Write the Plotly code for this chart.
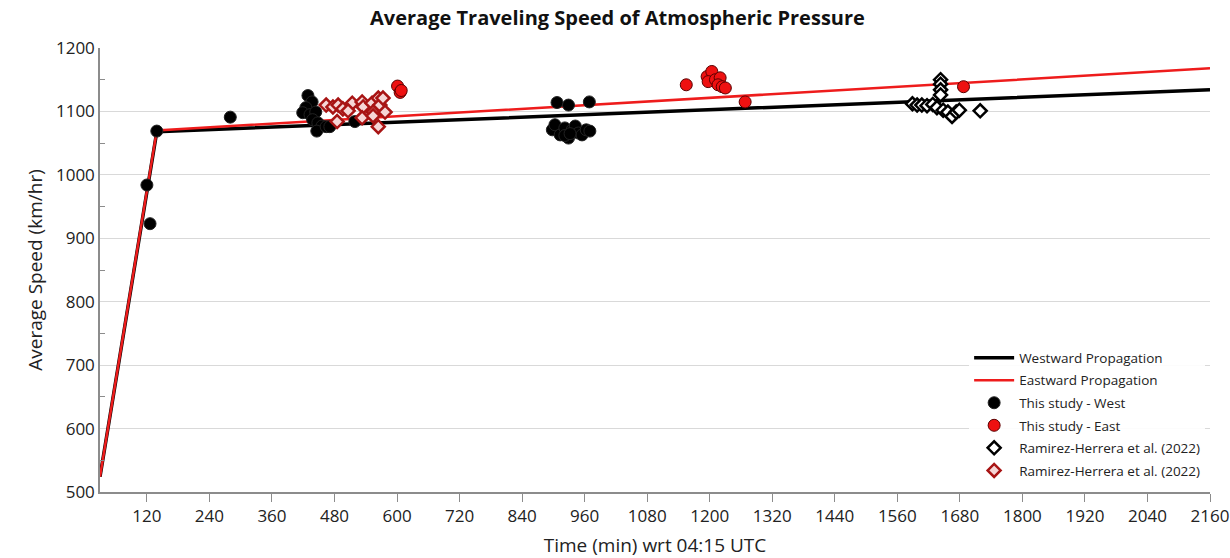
import plotly.graph_objects as go

# Fitted propagation lines (time in minutes, speed in km/hr)
west_t = [30, 139, 2160]
west_v = [524, 1068, 1134]
east_t = [30, 139, 2160]
east_v = [524, 1070, 1168]

# This study - West
west_obs_t = [120, 126, 139, 280,
              429, 437, 425, 419, 433, 444, 438, 448, 456, 446, 464, 471, 519,
              907, 929, 969,
              898, 903, 913, 922, 929, 936, 942, 948, 955, 963, 970, 922, 932]
west_obs_v = [984, 923, 1069, 1091,
              1125, 1115, 1106, 1098, 1095, 1099, 1087, 1082, 1077, 1069, 1076, 1076, 1084,
              1114, 1110, 1115,
              1071, 1079, 1063, 1074, 1058, 1071, 1077, 1066, 1063, 1071, 1069, 1062, 1065]

# This study - East
east_obs_t = [601, 606, 608, 1155, 1195, 1204, 1197, 1211, 1220, 1216, 1224, 1230, 1268, 1687]
east_obs_v = [1140, 1130, 1133, 1142, 1155, 1163, 1147, 1150, 1153, 1142, 1139, 1137, 1115, 1139]

# Ramirez-Herrera et al. (2022), west stations
rh_west_t = [1643, 1643, 1643, 1643, 1589, 1598, 1607, 1617, 1628, 1636, 1648, 1657, 1665, 1673, 1679, 1719]
rh_west_v = [1150, 1143, 1134, 1126, 1112, 1110, 1110, 1109, 1111, 1106, 1102, 1099, 1092, 1099, 1102, 1101]

# Ramirez-Herrera et al. (2022), east stations
rh_east_t = [464, 477, 487, 496, 514, 506, 533, 535, 552, 554, 564, 567, 573, 577, 485, 533, 564, 554]
rh_east_v = [1110, 1107, 1110, 1104, 1113, 1101, 1115, 1107, 1113, 1099, 1121, 1110, 1121, 1099, 1084, 1090, 1076, 1093]

x_ticks = list(range(120, 2161, 120))
y_ticks = list(range(500, 1201, 100))

fig = go.Figure()

fig.add_trace(go.Scatter(x=west_t, y=west_v, mode="lines", name="Westward Propagation",
                         legendgroup="a", line=dict(color="black", width=3.5)))
fig.add_trace(go.Scatter(x=east_t, y=east_v, mode="lines", name="Eastward Propagation",
                         legendgroup="b", line=dict(color="#ee1c1c", width=2.5)))
fig.add_trace(go.Scatter(x=west_obs_t, y=west_obs_v, mode="markers", name="This study - West",
                         legendgroup="c",
                         marker=dict(symbol="circle", size=12, color="black",
                                     line=dict(color="#222222", width=1))))
fig.add_trace(go.Scatter(x=east_obs_t, y=east_obs_v, mode="markers", name="This study - East",
                         legendgroup="d",
                         marker=dict(symbol="circle", size=12, color="#ee1111",
                                     line=dict(color="#5a0000", width=1))))
fig.add_trace(go.Scatter(x=rh_west_t, y=rh_west_v, mode="markers", name="Ramirez-Herrera et al. (2022)",
                         legendgroup="e",
                         marker=dict(symbol="diamond", size=10, color="white",
                                     line=dict(color="black", width=2.5))))
fig.add_trace(go.Scatter(x=rh_east_t, y=rh_east_v, mode="markers", name="Ramirez-Herrera et al. (2022)",
                         legendgroup="f",
                         marker=dict(symbol="diamond", size=10, color="#f6d6d6",
                                     line=dict(color="#a81414", width=2.5))))

font = "Open Sans, Noto Sans, sans-serif"

fig.update_layout(
    width=1230, height=558,
    margin=dict(l=100, r=20, t=48, b=66, autoexpand=False),
    paper_bgcolor="white", plot_bgcolor="white",
    font=dict(family=font, color="#222222"),
    title=dict(text="<b>Average Traveling Speed of Atmospheric Pressure</b>",
               x=0.502, xanchor="center", y=0.967, yanchor="middle",
               font=dict(size=20, color="#111111")),
    showlegend=True,
    legend=dict(x=0.783, y=0.337, xanchor="left", yanchor="top",
                bgcolor="rgba(255,255,255,0.9)", font=dict(size=13.5, color="#222222"),
                tracegroupgap=2, itemwidth=40),
    xaxis=dict(range=[30, 2160], tickvals=x_ticks, ticktext=[str(v) for v in x_ticks],
               showgrid=False, zeroline=False, automargin=False,
               showline=True, linecolor="#8c8c8c", linewidth=1.5,
               ticks="outside", ticklen=8, tickcolor="#8c8c8c",
               ticklabeloverflow="allow",
               tickfont=dict(size=17, color="#222222"),
               title=dict(text="Time (min) wrt 04:15 UTC", font=dict(size=19, color="#222222"),
                          standoff=13)),
    yaxis=dict(range=[500, 1200], tickvals=y_ticks,
               showgrid=True, gridcolor="#d9d9d9", gridwidth=1, zeroline=False, automargin=False,
               showline=True, linecolor="#8c8c8c", linewidth=1.5,
               ticks="", tickfont=dict(size=17, color="#222222"),
               minor=dict(tickvals=list(range(550, 1200, 100)), ticks="inside", ticklen=5,
                          tickcolor="#8c8c8c", showgrid=False),
               title=dict(text="Average Speed (km/hr)", font=dict(size=19, color="#222222"),
                          standoff=8)),
)

fig.write_html("out.html")
